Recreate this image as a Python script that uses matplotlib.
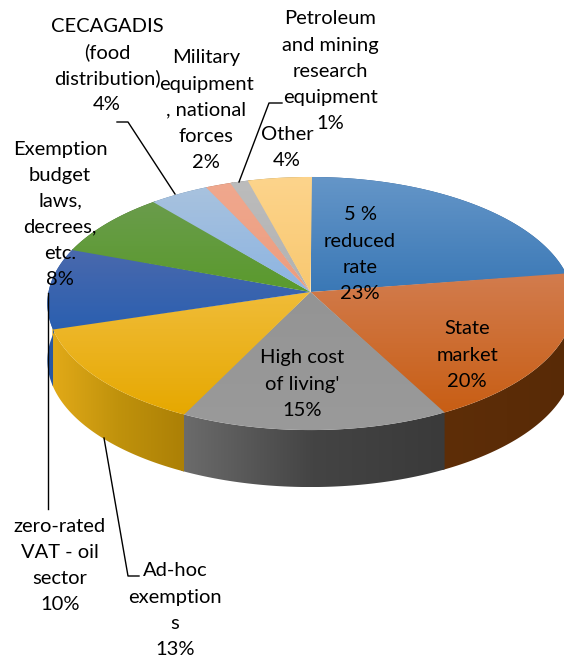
import numpy as np
import matplotlib
matplotlib.use("Agg")
import matplotlib.pyplot as plt
from matplotlib.colors import LinearSegmentedColormap
from matplotlib.patches import Polygon

# pie shares, clockwise from 12 o'clock
values = [22.6, 19.6, 15.1, 13.0, 10.3, 8.3, 4.0, 1.7, 1.2, 4.2]
names = [
    ["5 %", "reduced", "rate"],
    ["State", "market"],
    ["High cost", "of living'"],
    ["Ad-hoc", "exemption", "s"],
    ["zero-rated", "VAT - oil", "sector"],
    ["Exemption", "budget", "laws,", "decrees,", "etc."],
    ["CECAGADIS", "(food", "distribution)"],
    ["Military", "equipment", ", national", "forces"],
    ["Petroleum", "and mining", "research", "equipment"],
    ["Other"],
]
top_colors = [
    ("#6596c8", "#3a78b6"), ("#d27c4e", "#c85e14"), ("#949494", "#9a9a9a"),
    ("#f0bc38", "#e6a800"), ("#4a69ad", "#2a5fb0"), ("#6a9c4c", "#5a9a2c"),
    ("#a8c2de", "#8cb4e2"), ("#f0a88e", "#ec9c7e"), ("#bcbcbc", "#b2b2b2"),
    ("#fdd48c", "#f8c870"),
]
wall_colors = [
    ("#2a5a90", "#2a5a90"), ("#5e2e08", "#582a06"), ("#6c6c6c", "#444444", "#3a3a3a"),
    ("#e2aa18", "#c0920c", "#ac8006"), ("#2a58a4", "#2458a0"), ("#3c6420", "#3c6420"),
    ("#6080a0", "#6080a0"), ("#a06850", "#a06850"), ("#808080", "#808080"),
    ("#a89050", "#a89050"),
]
label_x = [360, 467, 302, 175, 60, 60, 107, 206, 330, 287]
label_y = [215, 329, 358, 571, 526, 149, 26, 58, 19, 134]
leaders = [
    ([48, 48], [293, 509]),
    ([104, 128, 139], [438, 576, 576]),
    ([117, 128, 175], [122, 122, 194]),
    ([239, 269, 282], [182, 103, 103]),
]

CX, CY = 310.5, 292
A, B, K = 262, 125.5, 0.091
DEPTH = 57
LINE = 26.1


def rim(frac):
    # perspective projection of the unit circle, frac is share of the turn
    t = 2 * np.pi * np.asarray(frac)
    u, v = np.sin(t), np.cos(t)
    w = 1 + K * v
    return CX + A * u / w, CY - B * v / w


def fill_gradient(ax, pts, colors, vertical):
    cmap = LinearSegmentedColormap.from_list("g", list(colors))
    xs, ys = pts[:, 0], pts[:, 1]
    grad = np.linspace(0, 1, 256)
    grad = grad[:, None] if vertical else grad[None, :]
    im = ax.imshow(grad, cmap=cmap, extent=(xs.min(), xs.max(), ys.max(), ys.min()),
                   origin="upper", aspect="auto", interpolation="bilinear", zorder=2)
    poly = Polygon(pts, closed=True, transform=ax.transData, fc="none", ec="none")
    ax.add_patch(poly)
    im.set_clip_path(poly)


fig = plt.figure(figsize=(5.64, 6.58), dpi=100)
ax = fig.add_axes([0, 0, 1, 1])
edges = np.concatenate([[0], np.cumsum(values)]) / np.sum(values)

# side wall first, the top face then covers the back part of it
# each piece runs a little into the next one so no seam shows
for i in range(len(values)):
    fr = np.linspace(edges[i], edges[i + 1] + 0.002, 80)
    x, y = rim(fr)
    pts = np.column_stack([np.r_[x, x[::-1]], np.r_[y, y[::-1] + DEPTH]])
    fill_gradient(ax, pts, wall_colors[i], False)

for i in range(len(values)):
    fr = np.linspace(edges[i], edges[i + 1] + 0.001, 80)
    x, y = rim(fr)
    pts = np.column_stack([np.r_[CX, x], np.r_[CY, y]])
    fill_gradient(ax, pts, top_colors[i], True)

for lx, ly in leaders:
    ax.plot(lx, ly, color="black", lw=1.0, zorder=3)

for i, lines in enumerate(names):
    rows = lines + [f"{values[i]:.0f}%"]
    for j, row in enumerate(rows):
        ax.text(label_x[i], label_y[i] + j * LINE, row, ha="center", va="center",
                fontsize=14.5, family="Lato", color="black", zorder=4)

ax.set_xlim(0, 564)
ax.set_ylim(658, 0)
ax.axis("off")
fig.savefig("out.png", dpi=100)
